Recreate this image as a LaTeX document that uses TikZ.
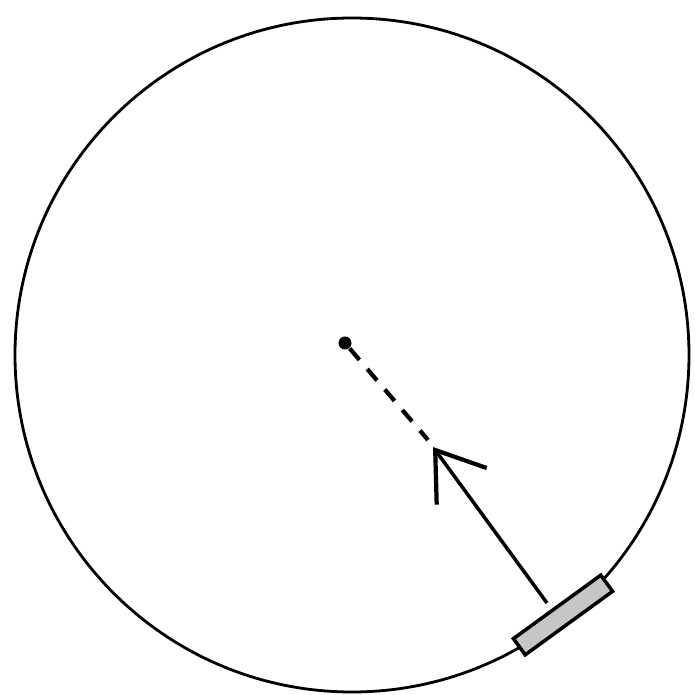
\documentclass[tikz,border=0pt]{standalone}
\usetikzlibrary{arrows.meta}
\tikzset{
  rim/.style={line width=0.8pt},
  pad/.style={draw,line width=1pt,fill=gray!45,rectangle,minimum width=1.08cm,minimum height=0.2cm,inner sep=0pt},
  pull/.style={line width=1pt,-{Straight Barb[length=4.5mm,width=6.2mm,line width=1.2pt]}},
  guide/.style={line width=1.2pt,dash pattern=on 1.5mm off 1.2mm}
}
\begin{document}
\begin{tikzpicture}
    \useasboundingbox (0,0) rectangle (6.95,6.95);
    \draw[rim] (3.52,3.40) circle (3.37);

    \node[circle,fill=black,inner sep=0pt,minimum size=0.13cm] (centre) at (3.45,3.52) {};
    \node[pad,rotate=36] (block) at (5.63,0.80) {};
    \coordinate (tail) at (5.47,0.92);
    \coordinate (tip) at (4.33,2.48);

    \draw[guide] (centre) -- (4.28,2.55);
    \draw[pull] (tail) -- (tip);
  \end{tikzpicture}
\end{document}
